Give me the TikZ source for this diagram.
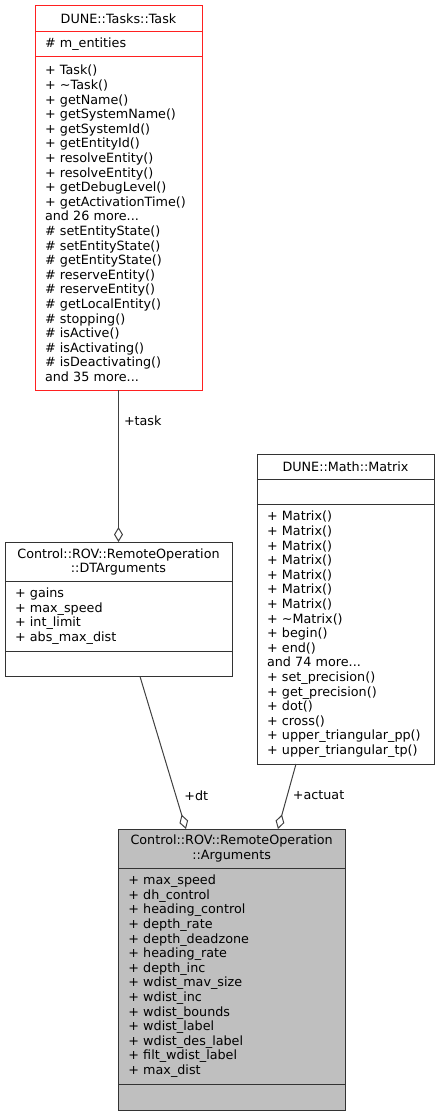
\documentclass[tikz,border=0pt]{standalone}
\usepackage{fontspec}
\setmainfont{DejaVu Sans}
\usepackage{tikz}
\usetikzlibrary{positioning,arrows.meta}
\usepackage{xcolor}
\definecolor{boxline}{HTML}{333333}
\definecolor{edgegray}{HTML}{404040}
\definecolor{taskred}{HTML}{FF2020}
\definecolor{argsfill}{HTML}{BFBFBF}

\begin{document}
\begin{tikzpicture}[x=1pt,y=1pt,
  every node/.style={font=\fontsize{12.75}{14.6}\selectfont},
  umlpart/.style={draw=boxline, line width=1pt, outer sep=0pt,
    inner xsep=10pt, inner ysep=0pt, text width=#1, align=left},
  umltitle/.style={umlpart=#1, align=center},
  member/.style={-{Diamond[open,length=15pt,width=9pt]}, draw=edgegray, line width=1pt},
  edgelabel/.style={inner sep=2pt, text=black}]
\useasboundingbox (0,0) rectangle (439,-1116);

\node[umltitle=147, draw=taskred, anchor=north, minimum height=25.7pt] (task) at (118.5,-6) {DUNE::Tasks::Task};
\node[umlpart=147, draw=taskred, below=0pt of task, minimum height=25pt] (taskattr) {\# m\_entities};
\node[umlpart=147, draw=taskred, below=0pt of taskattr, minimum height=333.3pt] (taskops) {%
+ Task()\\
+ \textasciitilde Task()\\
+ getName()\\
+ getSystemName()\\
+ getSystemId()\\
+ getEntityId()\\
+ resolveEntity()\\
+ resolveEntity()\\
+ getDebugLevel()\\
+ getActivationTime()\\
and 26 more...\\
\# setEntityState()\\
\# setEntityState()\\
\# getEntityState()\\
\# reserveEntity()\\
\# reserveEntity()\\
\# getLocalEntity()\\
\# stopping()\\
\# isActive()\\
\# isActivating()\\
\# isDeactivating()\\
and 35 more...};

\node[umltitle=207, anchor=north, minimum height=39.7pt] (dtargs) at (118.5,-542) {Control::ROV::RemoteOperation\\::DTArguments};
\node[umlpart=207, below=0pt of dtargs, minimum height=69.3pt] (dtattr) {%
+ gains\\
+ max\_speed\\
+ int\_limit\\
+ abs\_max\_dist};
\node[umlpart=207, below=0pt of dtattr, minimum height=25.5pt] (dtops) {};

\node[umltitle=157, anchor=north, minimum height=25.3pt] (matrix) at (345.5,-454) {DUNE::Math::Matrix};
\node[umlpart=157, below=0pt of matrix, minimum height=25.4pt] (matrixattr) {};
\node[umlpart=157, below=0pt of matrixattr, minimum height=259.3pt] (matrixops) {%
+ Matrix()\\
+ Matrix()\\
+ Matrix()\\
+ Matrix()\\
+ Matrix()\\
+ Matrix()\\
+ Matrix()\\
+ \textasciitilde Matrix()\\
+ begin()\\
+ end()\\
and 74 more...\\
+ set\_precision()\\
+ get\_precision()\\
+ dot()\\
+ cross()\\
+ upper\_triangular\_pp()\\
+ upper\_triangular\_tp()};

\node[umltitle=206.7, fill=argsfill, anchor=north, minimum height=39.3pt] (args) at (231.65,-829) {Control::ROV::RemoteOperation\\::Arguments};
\node[umlpart=206.7, fill=argsfill, below=0pt of args, minimum height=215.7pt] (argsattr) {%
+ max\_speed\\
+ dh\_control\\
+ heading\_control\\
+ depth\_rate\\
+ depth\_deadzone\\
+ heading\_rate\\
+ depth\_inc\\
+ wdist\_mav\_size\\
+ wdist\_inc\\
+ wdist\_bounds\\
+ wdist\_label\\
+ wdist\_des\_label\\
+ filt\_wdist\_label\\
+ max\_dist};
\node[umlpart=206.7, fill=argsfill, below=0pt of argsattr, minimum height=26pt] (argsops) {};

\draw[member] (taskops.south) -- node[edgelabel, pos=0.2, right=3pt] (lbltask) {+task} (dtargs.north);
\draw[member] ([xshift=21.5pt]dtops.south) -- node[edgelabel, pos=0.78, right=6pt] (lbldt) {+dt} ([xshift=-45.7pt]args.north);
\draw[member] ([xshift=-49.5pt]matrixops.south) -- node[edgelabel, pos=0.48, right=3pt] (lblactuat) {+actuat} ([xshift=46.3pt]args.north);
\end{tikzpicture}
\end{document}
